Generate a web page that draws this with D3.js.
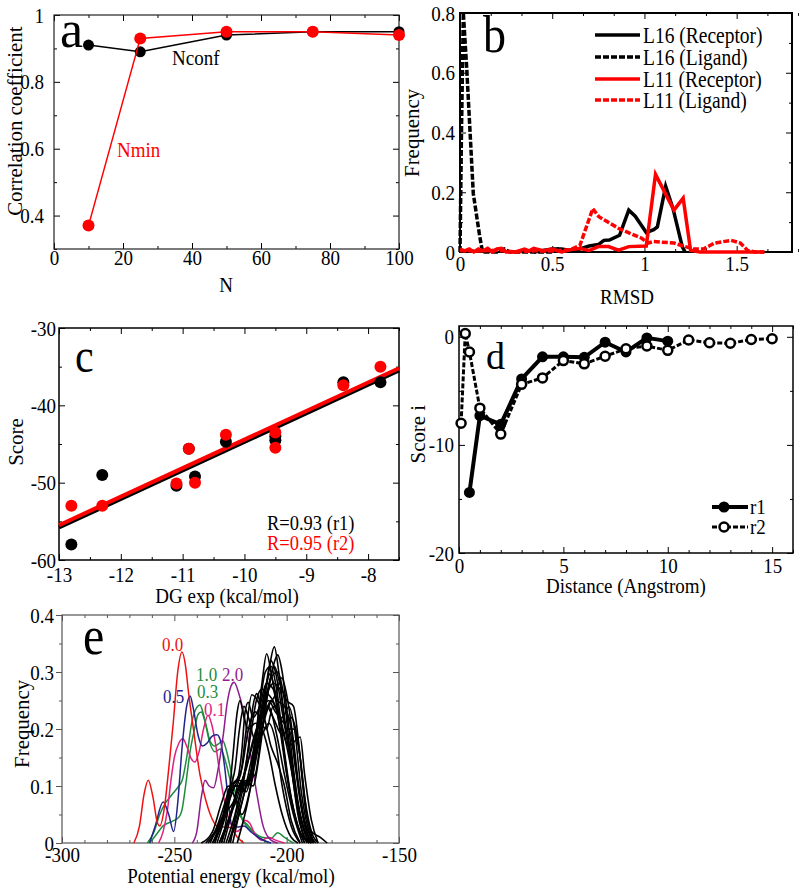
<!DOCTYPE html>
<html><head><meta charset="utf-8">
<script src="https://cdn.jsdelivr.net/npm/d3@7"></script>
<style>
body{margin:0;background:#fff}
svg text{font-family:"Liberation Serif","Times New Roman",serif;}
.st{transform:scale(1,1.15);transform-box:fill-box;transform-origin:center;}
.rot{transform:rotate(-90deg) scale(1.1,1.05);transform-box:fill-box;transform-origin:center;}
</style></head><body>
<svg id="c" width="799" height="894"></svg>
<script>
// ---------------- DATA ----------------
// Panel a
const aN = [10, 25, 50, 75, 100];
const aNconf = [0.91, 0.89, 0.94, 0.95, 0.95];
const aNmin = [0.37, 0.93, 0.95, 0.95, 0.94];
const aXTicks = [0, 20, 40, 60, 80, 100];
const aYTicks = [0.4, 0.6, 0.8, 1];

// Panel b  [RMSD, frequency]
const bL16Rec = [[0.4,0],[0.45,0.005],[0.5,0.01],[0.55,0.01],[0.6,0.005],[0.65,0.01],[0.7,0.02],[0.75,0.025],[0.78,0.039],[0.81,0.04],[0.865,0.056],[0.915,0.14],[0.95,0.12],[1.01,0.065],[1.05,0.075],[1.07,0.084],[1.115,0.22],[1.155,0.145],[1.205,0.018],[1.22,0]];
const bL16Lig = [[0,0],[0.008,0.4],[0.018,0.8],[0.036,0.62],[0.072,0.196],[0.105,0.06],[0.122,0],[0.2,0],[0.24,0.01],[0.27,0],[0.5,0],[0.53,0.01],[0.56,0]];
const bL11Rec = [[0,0.01],[0.025,0.004],[0.05,0.01],[0.075,0],[0.1,0.01],[0.125,0.004],[0.15,0.012],[0.175,0],[0.2,0.01],[0.225,0.012],[0.25,0],[0.3,0],[0.35,0.01],[0.375,0.004],[0.4,0.012],[0.45,0.004],[0.5,0.01],[0.55,0],[0.6,0.008],[0.65,0.012],[0.7,0.005],[0.75,0.018],[0.805,0.018],[0.86,0.006],[0.915,0.018],[1.01,0.02],[1.06,0.26],[1.16,0.14],[1.21,0.18],[1.25,0.006],[1.3,0],[1.65,0]];
const bL11Lig = [[0,0.005],[0.1,0.003],[0.2,0.006],[0.3,0],[0.4,0.004],[0.5,0.003],[0.6,0.008],[0.65,0.022],[0.72,0.145],[0.753,0.118],[0.86,0.079],[0.985,0.046],[1.02,0.03],[1.05,0.035],[1.16,0.03],[1.21,0.02],[1.27,0.01],[1.32,0.01],[1.38,0.03],[1.47,0.039],[1.52,0.03],[1.56,0.005],[1.6,0],[1.65,0]];
const bXTicks = [0, 0.5, 1, 1.5];
const bYTicks = [0, 0.2, 0.4, 0.6, 0.8];
const bLegend = ["L16 (Receptor)", "L16 (Ligand)", "L11 (Receptor)", "L11 (Ligand)"];

// Panel c
const cDG = [-12.8, -12.3, -11.1, -10.9, -10.8, -10.3, -9.5, -9.5, -8.4, -7.8];
const cR1 = [-58, -49, -50.4, -45.6, -49.2, -44.7, -44.0, -44.5, -37.0, -37.0];
const cR2 = [-53, -53, -50.1, -45.6, -50.0, -43.8, -43.5, -45.5, -37.4, -35.0];
const cFit1 = [[-13, -55.8], [-7.5, -35.5]];
const cFit2 = [[-13, -55.5], [-7.5, -35.2]];
const cXTicks = [-13, -12, -11, -10, -9, -8];
const cYTicks = [-60, -50, -40, -30];

// Panel d
const dR1 = [[0.5,-14.4],[1,-7.3],[2,-8.1],[3,-3.9],[4,-1.85],[5,-1.85],[6,-1.9],[7,-0.5],[8,-1.4],[9,-0.1],[10,-0.4]];
const dR2 = [[0.1,-8.0],[0.3,0.3],[0.5,-1.4],[1,-6.6],[2,-9.0],[3,-4.4],[4,-3.8],[5,-2.2],[6,-2.5],[7,-1.8],[8,-1.1],[9,-0.85],[10,-1.25],[11,-0.3],[12,-0.55],[13,-0.6],[14,-0.25],[15,-0.18]];
const dXTicks = [0, 5, 10, 15];
const dYTicks = [-20, -10, 0];

// Panel e  [potential energy, frequency]
const eRed = [[-268,0],[-265.5,0.03],[-263.5,0.085],[-261.6,0.11],[-259.5,0.08],[-257.5,0.035],[-256.5,0.03],[-254.5,0.06],[-252.5,0.13],[-250.5,0.21],[-248.5,0.3],[-246.6,0.335],[-245,0.31],[-243.8,0.268],[-241.5,0.2],[-238.6,0.12],[-236,0.075],[-234,0.05],[-231,0.03],[-228,0.028],[-225,0.027],[-222,0.01],[-219,0]];
const eBlue = [[-261,0],[-258.5,0.03],[-255,0.072],[-252.5,0.05],[-250.3,0.02],[-248.5,0.07],[-246.5,0.17],[-244.5,0.24],[-243,0.258],[-241.5,0.235],[-239.5,0.19],[-237.5,0.17],[-235.5,0.175],[-233,0.188],[-231,0.19],[-229.5,0.18],[-227.5,0.13],[-226,0.075],[-224.5,0.032],[-222,0.028],[-219,0.03],[-216,0.02],[-212,0.008],[-207,0]];
const eGreen1 = [[-262,0],[-259,0.02],[-256.5,0.05],[-254,0.07],[-251,0.085],[-248,0.1],[-246.5,0.11],[-244.5,0.15],[-242.3,0.21],[-240,0.238],[-238.6,0.242],[-237,0.225],[-235.5,0.2],[-234,0.178],[-232,0.17],[-230,0.175],[-228.5,0.18],[-227,0.165],[-225,0.13],[-223,0.09],[-220.5,0.05],[-218,0.03],[-215,0.02],[-211,0.01],[-207,0.008],[-204,0.018],[-201,0.01],[-197,0]];
const eGreen2 = [[-261,0],[-258,0.015],[-255,0.03],[-251,0.038],[-248,0.045],[-246.5,0.06],[-245,0.1],[-243,0.16],[-241,0.2],[-239.5,0.225],[-238,0.23],[-236.5,0.215],[-234.5,0.18],[-232,0.16],[-229.5,0.165],[-227,0.14],[-224,0.09],[-221,0.05],[-217,0.03],[-213,0.012],[-208,0]];
const ePink = [[-257,0],[-255,0.02],[-253,0.06],[-251.5,0.11],[-250,0.15],[-248,0.175],[-246.2,0.183],[-244.5,0.17],[-242.5,0.148],[-240.8,0.142],[-239,0.16],[-237,0.2],[-235,0.224],[-233.5,0.21],[-231.5,0.17],[-229.7,0.12],[-227.5,0.07],[-225,0.035],[-222.5,0.02],[-220.5,0.025],[-218.5,0.04],[-216.5,0.035],[-214,0.015],[-211,0.005],[-208,0.01],[-205,0.005],[-201,0]];
const ePurple = [[-242,0],[-240,0.02],[-238,0.08],[-236.3,0.11],[-234.5,0.1],[-232.5,0.097],[-230.5,0.13],[-228.2,0.19],[-226.5,0.245],[-224.8,0.275],[-223.4,0.282],[-221.5,0.265],[-219.5,0.235],[-217.5,0.19],[-215.5,0.14],[-213,0.08],[-210.5,0.03],[-207,0.005],[-204,0]];
const eBlack = [
 [[-230,0],[-226,0.04],[-222,0.09],[-219.5,0.11],[-217,0.1],[-214,0.18],[-211,0.28],[-208.9,0.332],[-206.5,0.29],[-204,0.25],[-201,0.24],[-198,0.2],[-195,0.1],[-192,0.03],[-189,0]],
 [[-226,0],[-222,0.05],[-219,0.1],[-217,0.11],[-214,0.15],[-211,0.22],[-208,0.3],[-205.5,0.344],[-203.5,0.3],[-201,0.22],[-198,0.15],[-195,0.07],[-192,0.02],[-189,0]],
 [[-229,0],[-226.5,0.05],[-224,0.15],[-222,0.23],[-220.8,0.25],[-219,0.22],[-217,0.2],[-214,0.21],[-211,0.2],[-208,0.16],[-205,0.1],[-202,0.05],[-198,0.01],[-195,0]],
 [[-233,0],[-229,0.04],[-225,0.1],[-222,0.11],[-220,0.16],[-218.5,0.23],[-217.1,0.247],[-215,0.22],[-212,0.24],[-209,0.28],[-206,0.27],[-203,0.2],[-200,0.12],[-196,0.04],[-192,0]],
 [[-231,0],[-227,0.05],[-223,0.1],[-220,0.1],[-217,0.17],[-215,0.24],[-213.3,0.262],[-211,0.24],[-208,0.25],[-205,0.23],[-202,0.22],[-199,0.239],[-196.5,0.2],[-193.5,0.09],[-190,0.02],[-187,0]],
 [[-229,0],[-225,0.05],[-221,0.1],[-218,0.105],[-215,0.14],[-212,0.22],[-209,0.28],[-207.4,0.297],[-205,0.26],[-202,0.2],[-199,0.17],[-196,0.18],[-194,0.186],[-192,0.12],[-189,0.04],[-186,0]],
 [[-226,0],[-222,0.04],[-218,0.1],[-214,0.15],[-211,0.2],[-208,0.24],[-205,0.26],[-202.2,0.29],[-200,0.26],[-197,0.18],[-194,0.08],[-191,0.02],[-188,0]],
 [[-232,0],[-228,0.05],[-224,0.1],[-221,0.1],[-218,0.09],[-215,0.15],[-212,0.24],[-209.5,0.3],[-207,0.31],[-204.5,0.27],[-201,0.16],[-198,0.08],[-195,0.03],[-192,0]],
 [[-235,0],[-230,0.03],[-226,0.07],[-223,0.1],[-220.5,0.12],[-218,0.2],[-215.5,0.26],[-213,0.25],[-210,0.22],[-207,0.17],[-204,0.14],[-201,0.1],[-198,0.04],[-194,0]],
 [[-224,0],[-220,0.07],[-217,0.11],[-214,0.12],[-211,0.2],[-208,0.27],[-205.5,0.31],[-203,0.28],[-200,0.25],[-197,0.24],[-194.5,0.17],[-192,0.07],[-189,0.02],[-185,0.01],[-182,0]],
 [[-230,0],[-226,0.04],[-222,0.08],[-219,0.12],[-216,0.16],[-213,0.2],[-210,0.24],[-207,0.29],[-204,0.3],[-201,0.25],[-198,0.14],[-195,0.05],[-191,0]],
 [[-233,0],[-229,0.03],[-225,0.09],[-222,0.11],[-219.5,0.09],[-216,0.14],[-212,0.22],[-209,0.26],[-206,0.28],[-203,0.27],[-200,0.2],[-197,0.2],[-194,0.15],[-191,0.05],[-188,0]],
 [[-228,0],[-224,0.06],[-221,0.11],[-218,0.1],[-215,0.13],[-212,0.2],[-209,0.28],[-207,0.32],[-205,0.3],[-202,0.23],[-199,0.16],[-196,0.08],[-192,0.01],[-189,0]],
 [[-236,0],[-232,0.02],[-228,0.05],[-224,0.07],[-221,0.1],[-218,0.13],[-215,0.18],[-212,0.21],[-209,0.2],[-206,0.24],[-203,0.22],[-200,0.17],[-197,0.11],[-194,0.05],[-190,0]],
 [[-227,0],[-223,0.05],[-219,0.12],[-216,0.19],[-213.5,0.25],[-211,0.27],[-208,0.26],[-205,0.24],[-202,0.18],[-199,0.1],[-195,0.03],[-190,0]],
 [[-225,0],[-221,0.08],[-218,0.11],[-215,0.1],[-212,0.16],[-209,0.25],[-206,0.31],[-204,0.33],[-202,0.3],[-199,0.2],[-196,0.1],[-193,0.03],[-190,0]],
 [[-238,0],[-233,0.02],[-229,0.07],[-226,0.1],[-223,0.08],[-220,0.05],[-216,0.1],[-212,0.2],[-209,0.24],[-206,0.22],[-202,0.19],[-199,0.2],[-196,0.13],[-192,0.04],[-188,0]],
 [[-234,0],[-230,0.04],[-226,0.09],[-223,0.13],[-221,0.2],[-219,0.24],[-217,0.22],[-214,0.18],[-211,0.19],[-208,0.21],[-205,0.18],[-202,0.1],[-198,0.03],[-194,0]],
 [[-232,0],[-228,0.05],[-225,0.1],[-222.5,0.11],[-220,0.13],[-217,0.2],[-214,0.23],[-211,0.22],[-208,0.24],[-205,0.2],[-201,0.12],[-197,0.05],[-193,0]],
 [[-222,0],[-218,0.06],[-214,0.14],[-210,0.22],[-207,0.25],[-204,0.23],[-201,0.21],[-198,0.22],[-195,0.18],[-192,0.08],[-189,0.02],[-186,0]]
];
const eXTicks = [-300, -250, -200, -150];
const eYTicks = [0, 0.1, 0.2, 0.3, 0.4];
const eLabels = ["0.0", "1.0", "2.0", "0.3", "0.5", "0.1"];

// ---------------- DRAWING ----------------
const FONT = '"Liberation Serif","Times New Roman",serif';
const svg = d3.select("#c");

function txt(g, x, y, s, o = {}) {
  return g.append("text").attr("x", x).attr("y", y).text(s)
    .attr("font-size", o.size || 19).attr("fill", o.fill || "#000")
    .attr("text-anchor", o.anchor || "start")
    .attr("class", o.cls === undefined ? "st" : o.cls);
}
function vtxt(g, cx, cy, s, size) {
  g.append("text").attr("x", cx).attr("y", cy).attr("text-anchor", "middle")
    .attr("dominant-baseline", "central").attr("font-size", size || 19)
    .attr("class", "rot").text(s);
}
function minors(a, b, step, majors) {
  return d3.range(a, b + step / 2, step).map(v => +v.toFixed(6))
    .filter(v => !majors.some(m => Math.abs(m - v) < 1e-6));
}
function frame(g, x, y, o) {
  const [x0, x1] = x.range(), [yb, yt] = y.range();
  const fmt = d => String(d);
  const tl = 6, tm = 3;
  const ax = (gen, tr) => {
    const a = g.append("g").attr("transform", tr).call(gen);
    a.select(".domain").remove();
    a.attr("font-size", 19).attr("font-family", FONT);
    a.selectAll("line").attr("stroke", o.tc || "#000").attr("stroke-width", 1);
    return a;
  };
  const b = ax(d3.axisBottom(x).tickValues(o.xTicks).tickSize(-tl).tickPadding(o.xPad).tickFormat(fmt), `translate(0,${yb})`);
  b.selectAll("text").attr("class", "st").attr("fill", "#000");
  ax(d3.axisBottom(x).tickValues(o.xMinor).tickSize(-tm).tickFormat(""), `translate(0,${yb})`);
  ax(d3.axisTop(x).tickValues(o.xTicks).tickSize(-tl).tickFormat(""), `translate(0,${yt})`);
  ax(d3.axisTop(x).tickValues(o.xMinor).tickSize(-tm).tickFormat(""), `translate(0,${yt})`);
  const l = ax(d3.axisLeft(y).tickValues(o.yTicks).tickSize(o.leftOut ? tl : -tl).tickPadding(o.yPad).tickFormat(fmt), `translate(${x0},0)`);
  l.selectAll("text").attr("class", "st").attr("fill", "#000");
  ax(d3.axisLeft(y).tickValues(o.yMinor).tickSize(o.leftOut ? tm : -tm).tickFormat(""), `translate(${x0},0)`);
  ax(d3.axisRight(y).tickValues(o.yTicks).tickSize(-tl).tickFormat(""), `translate(${x1},0)`);
  ax(d3.axisRight(y).tickValues(o.yMinor).tickSize(-tm).tickFormat(""), `translate(${x1},0)`);
  g.append("rect").attr("x", x0).attr("y", yt).attr("width", x1 - x0).attr("height", yb - yt)
    .attr("fill", "none").attr("stroke", o.bc || "#000").attr("stroke-width", o.bw || 1.5);
}

// ===== Panel a =====
{
  const g = svg.append("g");
  const x = d3.scaleLinear().domain([0, 100]).range([54, 399]);
  const y = d3.scaleLinear().domain([0.3, 1]).range([249, 15]);
  frame(g, x, y, { xTicks: aXTicks, xMinor: minors(0, 100, 10, aXTicks), yTicks: aYTicks,
    yMinor: minors(0.3, 1, 0.1, aYTicks), xPad: 2, yPad: 10, bw: 1.2, bc: "#222" });
  const line = d3.line().x((d, i) => x(aN[i])).y(d => y(d));
  g.append("path").datum(aNconf).attr("d", line).attr("fill", "none").attr("stroke", "#000").attr("stroke-width", 1.5);
  g.selectAll(".pk").data(aNconf).join("circle").attr("cx", (d, i) => x(aN[i])).attr("cy", d => y(d)).attr("r", 5.5).attr("fill", "#000");
  g.append("path").datum(aNmin).attr("d", line).attr("fill", "none").attr("stroke", "#f00").attr("stroke-width", 1.5);
  g.selectAll(".pr").data(aNmin).join("circle").attr("cx", (d, i) => x(aN[i])).attr("cy", d => y(d)).attr("r", 6).attr("fill", "#f00");
  txt(g, 172, 64, "Nconf");
  txt(g, 117, 156, "Nmin", { fill: "#f00" });
  txt(g, 60, 47, "a.", { size: 52, cls: "" });
  txt(g, 226, 291, "N", { anchor: "middle" });
  vtxt(g, 15, 121, "Correlation coefficient");
}

// ===== Panel b =====
{
  const g = svg.append("g");
  const x = d3.scaleLinear().domain([0, 1.8]).range([460, 792]);
  const y = d3.scaleLinear().domain([0, 0.8]).range([252, 13]);
  frame(g, x, y, { xTicks: bXTicks, xMinor: minors(0, 1.8, 1 / 6, bXTicks), yTicks: bYTicks,
    yMinor: minors(0, 0.8, 0.1, bYTicks), xPad: 5, yPad: 5, bw: 2 });
  const line = d3.line().x(d => x(d[0])).y(d => y(d[1]));
  const series = [
    { d: bL16Lig, c: "#000", dash: "6,2" },
    { d: bL16Rec, c: "#000", dash: null },
    { d: bL11Lig, c: "#f00", dash: "6,2" },
    { d: bL11Rec, c: "#f00", dash: null }
  ];
  series.forEach(s => {
    g.append("path").datum(s.d).attr("d", line).attr("fill", "none").attr("stroke", s.c)
      .attr("stroke-width", 3.5).attr("stroke-linejoin", "miter").attr("stroke-dasharray", s.dash);
  });
  const leg = [{ c: "#000", dash: null }, { c: "#000", dash: "6,2" }, { c: "#f00", dash: null }, { c: "#f00", dash: "6,2" }];
  const ly = [35, 57, 79, 100];
  leg.forEach((s, i) => {
    g.append("line").attr("x1", 595).attr("x2", 640).attr("y1", ly[i]).attr("y2", ly[i])
      .attr("stroke", s.c).attr("stroke-width", 3.5).attr("stroke-dasharray", s.dash);
    txt(g, 643, ly[i] + 7, bLegend[i], { size: 19.5 });
  });
  txt(g, 483, 50, "b", { size: 46 });
  txt(g, 627, 303, "RMSD", { anchor: "middle" });
  vtxt(g, 412, 132, "Frequency");
}

// ===== Panel c =====
{
  const g = svg.append("g");
  const x = d3.scaleLinear().domain([-13, -7.5]).range([59, 399]);
  const y = d3.scaleLinear().domain([-60, -30]).range([560, 328]);
  frame(g, x, y, { xTicks: cXTicks, xMinor: minors(-13, -7.5, 0.5, cXTicks), yTicks: cYTicks,
    yMinor: minors(-60, -30, 5, cYTicks), xPad: 8, yPad: 3, bw: 1.5 });
  const line = d3.line().x(d => x(d[0])).y(d => y(d[1]));
  g.append("path").datum(cFit1).attr("d", line).attr("stroke", "#000").attr("stroke-width", 4);
  g.append("path").datum(cFit2).attr("d", line).attr("stroke", "#f00").attr("stroke-width", 4);
  g.selectAll(".ck").data(cR1).join("circle").attr("cx", (d, i) => x(cDG[i])).attr("cy", d => y(d)).attr("r", 6).attr("fill", "#000");
  g.selectAll(".cr").data(cR2).join("circle").attr("cx", (d, i) => x(cDG[i])).attr("cy", d => y(d)).attr("r", 6).attr("fill", "#f00");
  txt(g, 267, 529, "R=0.93 (r1)", { size: 18.5 });
  txt(g, 267, 549, "R=0.95 (r2)", { size: 18.5, fill: "#f00" });
  txt(g, 75, 370, "c", { size: 42 });
  txt(g, 227, 602, "DG exp (kcal/mol)", { anchor: "middle" });
  vtxt(g, 16, 442, "Score");
}

// ===== Panel d =====
{
  const g = svg.append("g");
  const x = d3.scaleLinear().domain([0, 16]).range([459, 793]);
  const y = d3.scaleLinear().domain([-20, 1]).range([553, 326]);
  frame(g, x, y, { xTicks: dXTicks, xMinor: minors(0, 16, 1, dXTicks), yTicks: dYTicks,
    yMinor: minors(-20, 0, 5, dYTicks), xPad: 6, yPad: 5, bw: 1.5 });
  const line = d3.line().x(d => x(d[0])).y(d => y(d[1]));
  g.append("path").datum(dR1).attr("d", line).attr("fill", "none").attr("stroke", "#000").attr("stroke-width", 4);
  g.selectAll(".d1").data(dR1).join("circle").attr("cx", d => x(d[0])).attr("cy", d => y(d[1])).attr("r", 5.5).attr("fill", "#000");
  g.append("path").datum(dR2).attr("d", line).attr("fill", "none").attr("stroke", "#000").attr("stroke-width", 3).attr("stroke-dasharray", "5,2");
  g.selectAll(".d2").data(dR2).join("circle").attr("cx", d => x(d[0])).attr("cy", d => y(d[1])).attr("r", 4.5)
    .attr("fill", "#fff").attr("stroke", "#000").attr("stroke-width", 2.5);
  // legend
  g.append("line").attr("x1", 712).attr("x2", 748).attr("y1", 507).attr("y2", 507).attr("stroke", "#000").attr("stroke-width", 4);
  g.append("circle").attr("cx", 724).attr("cy", 507).attr("r", 5.5).attr("fill", "#000");
  txt(g, 750, 513, "r1", { size: 19 });
  g.append("line").attr("x1", 712).attr("x2", 748).attr("y1", 527).attr("y2", 527).attr("stroke", "#000").attr("stroke-width", 3).attr("stroke-dasharray", "5,2");
  g.append("circle").attr("cx", 724).attr("cy", 527).attr("r", 4.5).attr("fill", "#fff").attr("stroke", "#000").attr("stroke-width", 2.5);
  txt(g, 750, 533, "r2", { size: 19 });
  txt(g, 486, 369, "d", { size: 38, cls: "" });
  txt(g, 626, 592, "Distance (Angstrom)", { anchor: "middle" });
  vtxt(g, 418, 434, "Score i");
}

// ===== Panel e =====
{
  const g = svg.append("g");
  const x = d3.scaleLinear().domain([-300, -150]).range([62, 399]);
  const y = d3.scaleLinear().domain([0, 0.4]).range([843, 615]);
  frame(g, x, y, { xTicks: eXTicks, xMinor: minors(-300, -150, 10, eXTicks), yTicks: eYTicks,
    yMinor: minors(0, 0.4, 0.05, eYTicks), xPad: 5, yPad: 2, leftOut: true, bw: 1.2, bc: "#555", tc: "#555" });
  const line = d3.line().x(d => x(d[0])).y(d => y(d[1])).curve(d3.curveMonotoneX);
  const colored = [
    { d: eGreen2, c: "#1e8c3c" }, { d: eGreen1, c: "#1e8c3c" }, { d: ePink, c: "#e0207f" },
    { d: eBlue, c: "#23238e" }, { d: eRed, c: "#ee1111" }, { d: ePurple, c: "#8e1c8e" }
  ];
  colored.forEach(s => g.append("path").datum(s.d).attr("d", line).attr("fill", "none").attr("stroke", s.c).attr("stroke-width", 1.5));
  eBlack.forEach(c => g.append("path").datum(c).attr("d", line).attr("fill", "none").attr("stroke", "#000").attr("stroke-width", 1.6));
  const lab = [
    { x: 162, y: 650, c: "#ee1111" }, { x: 196, y: 680, c: "#1e8c3c" }, { x: 222, y: 680, c: "#8e1c8e" },
    { x: 197, y: 697, c: "#1e8c3c" }, { x: 163, y: 702, c: "#23238e" }, { x: 204, y: 715, c: "#e0207f" }
  ];
  eLabels.forEach((s, i) => txt(g, lab[i].x, lab[i].y, s, { size: 17, fill: lab[i].c }));
  txt(g, 83, 652, "e", { size: 48 });
  txt(g, 231, 882, "Potential energy (kcal/mol)", { anchor: "middle" });
  vtxt(g, 22, 723, "Frequency");
}
</script>
</body></html>
